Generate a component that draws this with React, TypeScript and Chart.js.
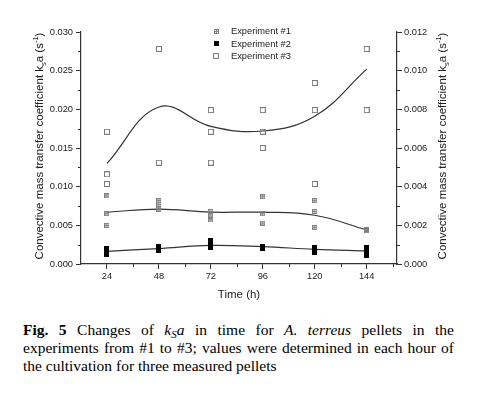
import React, { useEffect, useRef } from "react";
import { Chart, registerables } from "chart.js";

Chart.register(...registerables);

// ---- data ----
const timeTicks = [24, 48, 72, 96, 120, 144];
const exp1Values = [
  [0.0088, 0.0065, 0.0050],
  [0.0082, 0.0077, 0.0071],
  [0.0068, 0.0062, 0.0057],
  [0.0087, 0.0065, 0.0053],
  [0.0082, 0.0068, 0.0047],
  [0.0045, 0.0044, 0.0043],
];
const exp2Values = [
  [0.0020, 0.0016, 0.0012],
  [0.0023, 0.0020, 0.0018],
  [0.0030, 0.0026, 0.0021],
  [0.0023, 0.0021, 0.0020],
  [0.0021, 0.0018, 0.0015],
  [0.0021, 0.0018, 0.0011],
];
const exp3Values = [
  [0.0171, 0.0116, 0.01035],
  [0.0278, 0.0131],
  [0.0199, 0.0171, 0.0131],
  [0.0199, 0.0171, 0.0150],
  [0.0234, 0.0199, 0.01035],
  [0.0278, 0.0199],
];
const exp1Fit = [0.0067, 0.0071, 0.0067, 0.0067, 0.0063, 0.0044];
const exp2Fit = [0.00164, 0.0020, 0.0024, 0.00224, 0.0019, 0.0017];
const exp3Fit = [0.0130, 0.0203, 0.0178, 0.0172, 0.0191, 0.0252];

const leftTicks = [0, 0.005, 0.01, 0.015, 0.02, 0.025, 0.03];
const leftMinorTicks = [0.0025, 0.0075, 0.0125, 0.0175, 0.0225, 0.0275];
const rightTicks = [0, 0.002, 0.004, 0.006, 0.008, 0.01, 0.012];
const rightMinorTicks = [0.001, 0.003, 0.005, 0.007, 0.009, 0.011];
const xMinorTicks = [36, 60, 84, 108, 132, 156];

const legendLabels = ["Experiment #1", "Experiment #2", "Experiment #3"];
const xTitle = "Time (h)";
const yTitleParts: [string, string][] = [
  ["Convective mass transfer coefficient k", "n"],
  ["s", "sub"],
  ["a (s", "n"],
  ["-1", "sup"],
  [")", "n"],
];

const FAM = '"Liberation Sans", Arial, Helvetica, sans-serif';
const TEXT = "#222";
const AXIS = "#333";

function toPoints(times: number[], vals: number[][]) {
  return times.flatMap((t, i) => vals[i].map((v) => ({ x: t, y: v })));
}
function fitPoints(times: number[], vals: number[]) {
  return times.map((t, i) => ({ x: t, y: vals[i] }));
}

function makeMarker(kind: string) {
  const c = document.createElement("canvas");
  const g = c.getContext("2d")!;
  if (kind === "cross") {
    c.width = 5; c.height = 5;
    g.strokeStyle = "#808080"; g.lineWidth = 1;
    g.strokeRect(0.5, 0.5, 4, 4);
    g.beginPath();
    g.moveTo(2.5, 0.5); g.lineTo(2.5, 4.5);
    g.moveTo(0.5, 2.5); g.lineTo(4.5, 2.5);
    g.stroke();
  } else if (kind === "filled") {
    c.width = 5; c.height = 5;
    g.fillStyle = "#000";
    g.fillRect(0, 0, 5, 5);
  } else {
    c.width = 6; c.height = 6;
    g.strokeStyle = "#7a7a7a"; g.lineWidth = 1;
    g.strokeRect(0.5, 0.5, 5, 5);
  }
  return c;
}

function drawRich(ctx: CanvasRenderingContext2D, parts: [string, string][], x: number, y: number, size: number) {
  const widths = parts.map(([t, k]) => {
    ctx.font = `${k === "n" ? size : size * 0.65}px ${FAM}`;
    return ctx.measureText(t).width;
  });
  const total = widths.reduce((a, b) => a + b, 0);
  let cx = x - total / 2;
  ctx.textAlign = "left";
  ctx.textBaseline = "alphabetic";
  parts.forEach(([t, k], i) => {
    ctx.font = `${k === "n" ? size : size * 0.65}px ${FAM}`;
    const dy = k === "sub" ? size * 0.3 : k === "sup" ? -size * 0.42 : 0;
    ctx.fillText(t, cx, y + dy);
    cx += widths[i];
  });
}

export default function App() {
  const ref = useRef<HTMLCanvasElement>(null);
  useEffect(() => {
    if (!ref.current) return;
    const m1 = makeMarker("cross");
    const m2 = makeMarker("filled");
    const m3 = makeMarker("open");
    const markers = [m1, m2, m3];
    const H = 305;

    const decor = {
      id: "decor",
      afterDraw(chart: any) {
        const { ctx, chartArea: ca, scales } = chart;
        ctx.save();
        ctx.strokeStyle = AXIS;
        ctx.lineWidth = 1;
        ctx.beginPath();
        leftMinorTicks.forEach((v) => {
          const p = Math.round(scales.y.getPixelForValue(v)) + 0.5;
          ctx.moveTo(ca.left - 3, p); ctx.lineTo(ca.left, p);
        });
        rightMinorTicks.forEach((v) => {
          const p = Math.round(scales.y2.getPixelForValue(v)) + 0.5;
          ctx.moveTo(ca.right, p); ctx.lineTo(ca.right + 3, p);
        });
        xMinorTicks.forEach((v) => {
          const p = Math.round(scales.x.getPixelForValue(v)) + 0.5;
          ctx.moveTo(p, ca.bottom); ctx.lineTo(p, ca.bottom + 3);
        });
        ctx.stroke();

        ctx.fillStyle = TEXT;
        // y titles
        const cy = (ca.top + ca.bottom) / 2 - 2;
        ctx.save();
        ctx.translate(ca.left - 38.5, cy);
        ctx.rotate(-Math.PI / 2);
        drawRich(ctx, yTitleParts, 0, 0, 11.5);
        ctx.restore();
        ctx.save();
        ctx.translate(ca.right + 49, cy);
        ctx.rotate(-Math.PI / 2);
        drawRich(ctx, yTitleParts, 0, 0, 11.5);
        ctx.restore();
        // x title
        ctx.font = `11.5px ${FAM}`;
        ctx.textAlign = "center";
        ctx.textBaseline = "alphabetic";
        ctx.fillText(xTitle, (ca.left + ca.right) / 2, ca.bottom + 34);

        // legend
        const lx = ca.left + 135;
        const rows = [ca.top - 1, ca.top + 11.5, ca.top + 24];
        ctx.font = `9.3px ${FAM}`;
        ctx.textAlign = "left";
        ctx.textBaseline = "middle";
        legendLabels.forEach((lab, i) => {
          const mk = markers[i];
          ctx.drawImage(mk, Math.round(lx - mk.width / 2), Math.round(rows[i] - mk.height / 2));
          ctx.fillText(lab, lx + 15, rows[i] + 0.5);
        });
        ctx.restore();
      },
    };

    const lineStyle = {
      type: "line" as const,
      showLine: true,
      borderColor: "#333",
      borderWidth: 1.2,
      pointRadius: 0,
      tension: 0.4,
      fill: false,
      yAxisID: "y",
    };
    const scatterStyle = (img: HTMLCanvasElement) => ({
      type: "scatter" as const,
      showLine: false,
      pointStyle: img,
      pointRadius: 3,
      yAxisID: "y",
    });

    const chart = new Chart(ref.current, {
      type: "scatter",
      data: {
        datasets: [
          { ...scatterStyle(m3), label: legendLabels[2], data: toPoints(timeTicks, exp3Values) },
          { ...scatterStyle(m1), label: legendLabels[0], data: toPoints(timeTicks, exp1Values) },
          { ...scatterStyle(m2), label: legendLabels[1], data: toPoints(timeTicks, exp2Values) },
          { ...lineStyle, label: "fit3", data: fitPoints(timeTicks, exp3Fit) },
          { ...lineStyle, label: "fit1", data: fitPoints(timeTicks, exp1Fit) },
          { ...lineStyle, label: "fit2", data: fitPoints(timeTicks, exp2Fit) },
        ] as any,
      },
      options: {
        responsive: false,
        animation: false,
        layout: { padding: { top: 32, left: 0, right: 0, bottom: 0 } },
        plugins: { legend: { display: false }, tooltip: { enabled: false } },
        scales: {
          x: {
            type: "linear",
            min: 12,
            max: 158,
            afterBuildTicks: (s: any) => { s.ticks = timeTicks.map((v) => ({ value: v })); },
            afterFit: (s: any) => { s.height = H - 264; },
            ticks: { callback: (v: any) => String(v), font: { family: FAM, size: 9.3 }, color: TEXT, padding: 2, maxRotation: 0 },
            grid: { drawOnChartArea: false, tickLength: 5, tickColor: AXIS, lineWidth: 1 },
            border: { color: AXIS, width: 1.2 },
          },
          y: {
            type: "linear",
            position: "left",
            min: 0,
            max: 0.03,
            afterBuildTicks: (s: any) => { s.ticks = leftTicks.map((v) => ({ value: v })); },
            afterFit: (s: any) => { s.width = 81; },
            ticks: { callback: (v: any) => Number(v).toFixed(3), font: { family: FAM, size: 9.3 }, color: TEXT, padding: 3 },
            grid: { drawOnChartArea: false, tickLength: 5, tickColor: AXIS, lineWidth: 1 },
            border: { color: AXIS, width: 1.2 },
          },
          y2: {
            type: "linear",
            position: "right",
            min: 0,
            max: 0.012,
            afterBuildTicks: (s: any) => { s.ticks = rightTicks.map((v) => ({ value: v })); },
            afterFit: (s: any) => { s.width = 479 - 397; },
            ticks: { callback: (v: any) => Number(v).toFixed(3), font: { family: FAM, size: 9.3 }, color: TEXT, padding: 2 },
            grid: { drawOnChartArea: false, tickLength: 5, tickColor: AXIS, lineWidth: 1 },
            border: { color: AXIS, width: 1.2 },
          },
        },
      } as any,
      plugins: [decor],
    });
    return () => chart.destroy();
  }, []);

  const lineStyle: React.CSSProperties = {
    textAlign: "justify",
    textAlignLast: "justify" as any,
    height: "18.3px",
  };
  return (
    <div style={{ position: "absolute", left: 0, top: 0, width: 479, height: 398, background: "#fff", overflow: "hidden" }}>
      <canvas ref={ref} width={479} height={305} style={{ position: "absolute", left: 0, top: 0 }} />
      <div
        style={{
          position: "absolute",
          left: 23,
          top: 320.6,
          width: 431,
          fontFamily: '"Liberation Serif", "Times New Roman", serif',
          fontSize: "15.5px",
          lineHeight: "18.3px",
          color: "#000",
        }}
      >
        <div style={lineStyle}>
          <b>Fig. 5</b> Changes of <i>k<sub style={{ fontSize: "0.72em", verticalAlign: "-0.25em", lineHeight: 0 }}>S</sub>a</i> in time for <i>A. terreus</i> pellets in the
        </div>
        <div style={lineStyle}>experiments from #1 to #3; values were determined in each hour of</div>
        <div style={{ height: "18.3px" }}>the cultivation for three measured pellets</div>
      </div>
    </div>
  );
}
